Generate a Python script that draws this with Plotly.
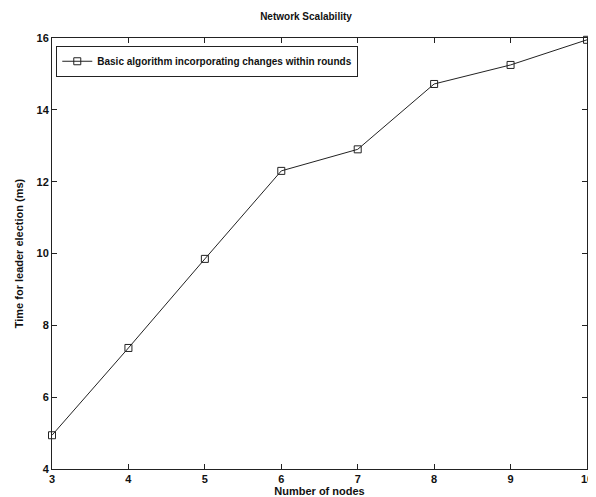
import plotly.graph_objects as go

nodes = [3, 4, 5, 6, 7, 8, 9, 10]
times = [4.94, 7.37, 9.85, 12.3, 12.9, 14.72, 15.25, 15.95]
series_name = "Basic algorithm incorporating changes within rounds"

fig = go.Figure()
fig.add_trace(go.Scatter(
    x=nodes, y=times, mode="lines+markers", name=series_name,
    line=dict(color="#222222", width=1),
    marker=dict(symbol="square-open", size=7, color="#222222", line=dict(width=1)),
    showlegend=True, cliponaxis=False,
))

fam = "Liberation Sans, Arial, sans-serif"
font = dict(family=fam, color="#111111", weight="bold")
axis_common = dict(
    showgrid=False, zeroline=False, showline=True, linecolor="#222222", linewidth=1,
    mirror="ticks", ticks="inside", ticklen=5, tickcolor="#222222",
    tickfont=dict(size=11, **font), ticklabeloverflow="allow",
)
fig.update_layout(
    width=596, height=497,
    paper_bgcolor="white", plot_bgcolor="white",
    margin=dict(l=40, r=11, t=30, b=36),
    title=dict(text="Network Scalability", x=0.5, xanchor="center", y=0.99, yanchor="top",
               font=dict(size=10, **font)),
    xaxis=dict(range=[3, 10], dtick=1,
               title=dict(text="Number of nodes", font=dict(size=11, **font), standoff=0),
               **axis_common),
    yaxis=dict(range=[4, 16], dtick=2,
               title=dict(text="Time for leader election (ms)", font=dict(size=11, **font), standoff=10),
               **axis_common),
    legend=dict(x=0.008, y=0.982, xanchor="left", yanchor="top",
                bordercolor="#222222", borderwidth=1, bgcolor="white",
                font=dict(size=10, **font), itemwidth=30),
    showlegend=True,
)
fig.write_html("out.html")
